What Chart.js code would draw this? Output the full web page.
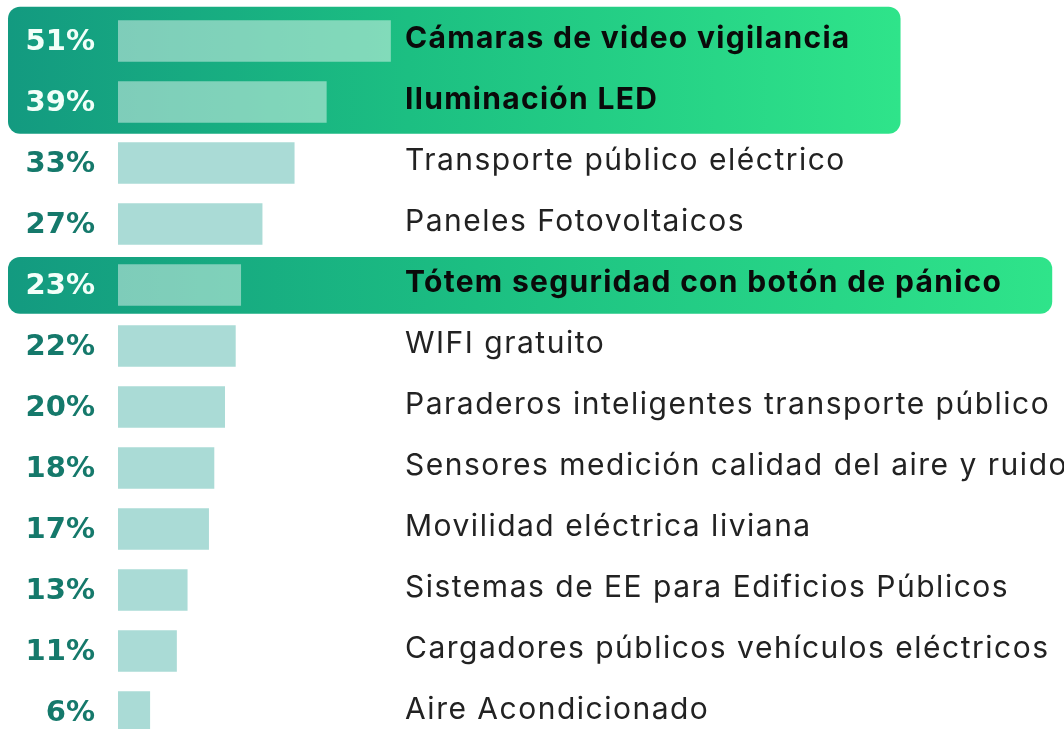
<!DOCTYPE html>
<html>
<head>
<meta charset="utf-8">
<script src="https://cdn.jsdelivr.net/npm/chart.js@4.4.1/dist/chart.umd.min.js"></script>
<style>
  html, body { margin: 0; padding: 0; background: #fff; overflow: hidden; }
  canvas { display: block; }
</style>
</head>
<body>
<canvas id="grafico1" width="1064" height="729"></canvas>
<script>
	// datos
	var categorias = [
		"Cámaras de video vigilancia",
		"Iluminación LED",
		"Transporte público eléctrico",
		"Paneles Fotovoltaicos",
		"Tótem seguridad con botón de pánico",
		"WIFI gratuito",
		"Paraderos inteligentes transporte público",
		"Sensores medición calidad del aire y ruido",
		"Movilidad eléctrica liviana",
		"Sistemas de EE para Edificios Públicos",
		"Cargadores públicos vehículos eléctricos",
		"Aire Acondicionado"
	];
	var valores = [51, 39, 33, 27, 23, 22, 20, 18, 17, 13, 11, 6];
	var destacados = [0, 1, 4];   // filas resaltadas en verde

	var TXT_X = 405;
	var PCT_X = 95;

	function esDestacado(i) {
		return destacados.indexOf(i) >= 0;
	}

	// agrupa filas destacadas contiguas en cajas
	function gruposDestacados() {
		var grupos = [];
		destacados.slice().sort(function(a, b) { return a - b; }).forEach(function(i) {
			var g = grupos[grupos.length - 1];
			if (g && g[1] == i - 1) g[1] = i;
			else grupos.push([i, i]);
		});
		return grupos;
	}

	var cajasPlugin = {
		id: 'cajas',
		beforeDatasetsDraw: function(chart) {
			var ctx = chart.ctx;
			var y = chart.scales.y;
			var paso = y.getPixelForValue(1) - y.getPixelForValue(0);
			ctx.save();
			ctx.font = "bold 30px Inter";
			ctx.letterSpacing = "1.3px";
			gruposDestacados().forEach(function(g) {
				var ancho = 0;
				for (var i = g[0]; i <= g[1]; i++) {
					ancho = Math.max(ancho, ctx.measureText(categorias[i]).width);
				}
				var multi = g[1] > g[0];
				var top = y.getPixelForValue(g[0]) - (multi ? 0.56 : 0.46) * paso;
				var bottom = y.getPixelForValue(g[1]) + (multi ? 0.52 : 0.47) * paso;
				var left = 8;
				var right = TXT_X + ancho + 50;
				var grad = ctx.createLinearGradient(left, 0, right, 0);
				grad.addColorStop(0, '#139a80');
				grad.addColorStop(0.45, '#1cbf82');
				grad.addColorStop(1, '#2fe48a');
				ctx.fillStyle = grad;
				ctx.beginPath();
				ctx.roundRect(left, top, right - left, bottom - top, 12);
				ctx.fill();
			});
			ctx.restore();
		}
	};

	var etiquetasPlugin = {
		id: 'etiquetas',
		afterDatasetsDraw: function(chart) {
			var ctx = chart.ctx;
			var y = chart.scales.y;
			ctx.save();
			ctx.textBaseline = 'middle';
			categorias.forEach(function(cat, i) {
				var py = y.getPixelForValue(i);
				var dest = esDestacado(i);
				ctx.textAlign = 'right';
				ctx.font = "bold 29px 'DejaVu Sans'";
				ctx.letterSpacing = "0px";
				ctx.fillStyle = dest ? '#f2fff9' : '#15796b';
				ctx.fillText(valores[i] + '%', PCT_X, py + 1);
				ctx.textAlign = 'left';
				ctx.font = (dest ? "bold " : "") + "30px Inter";
				ctx.letterSpacing = dest ? "1.3px" : "1.5px";
				ctx.fillStyle = dest ? '#0a0a0a' : '#222222';
				ctx.fillText(cat, TXT_X, py - 2);
			});
			ctx.restore();
		}
	};

	function graficoBarra(ctx) {
		var colores = valores.map(function(v, i) {
			return esDestacado(i) ? 'rgba(255,255,255,0.45)' : '#aadbd6';
		});
		window.grafica = new Chart(ctx, {
			type: 'bar',
			data: {
				labels: categorias,
				datasets: [{
					data: valores,
					backgroundColor: colores,
					borderWidth: 0,
					barPercentage: 0.68,
					categoryPercentage: 1,
					clip: false
				}]
			},
			options: {
				responsive: false,
				animation: false,
				indexAxis: 'y',
				layout: { padding: { left: 118, right: 411, top: 41, bottom: 17 } },
				scales: {
					x: { display: false, min: 0, max: 100 },
					y: { display: false, offset: false }
				},
				plugins: {
					legend: { display: false },
					tooltip: { enabled: false }
				}
			},
			plugins: [cajasPlugin, etiquetasPlugin]
		});
	}

	graficoBarra(document.getElementById("grafico1").getContext('2d'));
</script>
</body>
</html>
